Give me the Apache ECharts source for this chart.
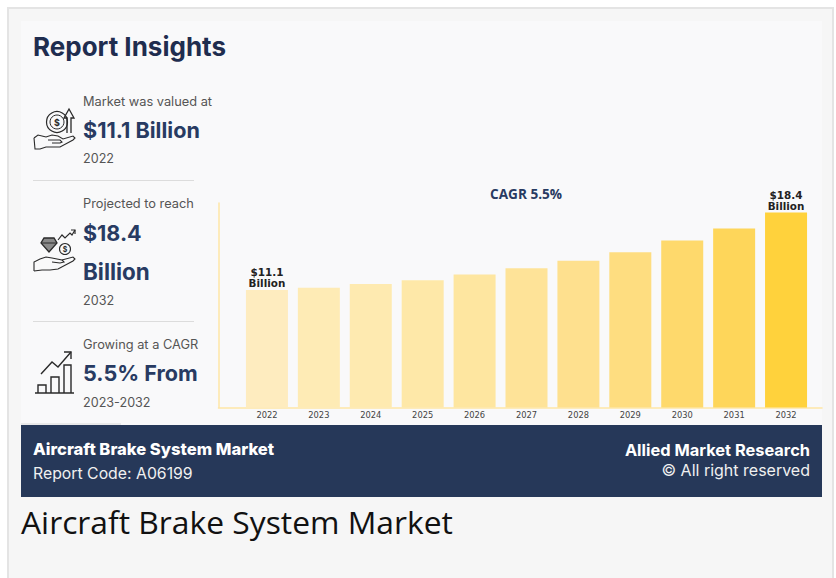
<!DOCTYPE html>
<html>
<head>
<meta charset="utf-8">
<title>Aircraft Brake System Market</title>
<script src="https://cdn.jsdelivr.net/npm/echarts@6/dist/echarts.min.js"></script>
<style>
    html, body { margin: 0; padding: 0; background: #fff; }
    #main { width: 836px; height: 578px; }
</style>
</head>
<body>
<div id="main"></div>
<script>
var years = ['2022', '2023', '2024', '2025', '2026', '2027', '2028', '2029', '2030', '2031', '2032'];
var marketValues = [11.1, 11.3, 11.65, 12.0, 12.55, 13.15, 13.85, 14.65, 15.75, 16.9, 18.4];
var barLabels = ['$11.1\nBillion', '', '', '', '', '', '', '', '', '', '$18.4\nBillion'];
var barColors = ['#feecbf', '#feebb5', '#feeab0', '#fee8a8', '#fee6a0', '#fee398', '#fee08e', '#fedd80', '#fed96c', '#fed65a', '#ffd23c'];

var navy = '#283b62';
var sans = 'Inter, "Noto Sans", sans-serif';

function label(x, y, text, size, weight, color, align) {
    return {
        type: 'text', x: x, y: y, z: 5,
        style: {
            text: text, fontFamily: sans, fontSize: size, fontWeight: weight,
            fill: color, align: align || 'left', verticalAlign: 'middle'
        }
    };
}

function rule(x1, x2, y, color) {
    return { type: 'line', z: 1, shape: { x1: x1, y1: y, x2: x2, y2: y }, style: { stroke: color, lineWidth: 1 } };
}

// 图标用折线和圆拼
function pen(points, width, fill) {
    return {
        type: fill ? 'polygon' : 'polyline', z: 5,
        shape: { points: points },
        style: { stroke: '#2a2a2a', lineWidth: width || 1.1, fill: fill || 'none' }
    };
}

function ring(cx, cy, r, width) {
    return {
        type: 'circle', z: 5,
        shape: { cx: cx, cy: cy, r: r },
        style: { stroke: '#2a2a2a', lineWidth: width || 1.1, fill: 'none' }
    };
}

function tag(x, y, text, size) {
    return {
        type: 'text', x: x, y: y, z: 6,
        style: { text: text, fontFamily: sans, fontSize: size, fontWeight: 700, fill: '#2a2a2a', align: 'center', verticalAlign: 'middle' }
    };
}

var icons = [
    // 手和硬币
    pen([[34, 138], [38, 135], [46, 137], [52, 135], [58, 136], [63, 139], [73, 136], [75, 138], [73, 140], [60, 147], [46, 147], [40, 149], [35, 149], [34, 138]]),
    pen([[48, 140], [60, 140], [62, 142], [60, 143], [52, 143]]),
    ring(57, 122, 10.5, 1.2),
    ring(57, 122, 7, 1),
    tag(57, 122, '$', 9),
    pen([[67, 133], [67, 118], [64, 118], [69, 109], [74, 118], [71, 118], [71, 133]], 1.3),
    // 钻石和手
    pen([[44, 238], [54, 238], [57, 243], [49, 252], [41, 243]], 1.3, '#8a8a8a'),
    pen([[41, 243], [57, 243]], 1),
    ring(65, 249, 5.5),
    tag(65, 249, '$', 7),
    pen([[58, 240], [62, 235], [65, 238], [70, 233], [72, 235], [75, 230]], 1.2),
    pen([[71, 230], [75, 230], [75, 234]], 1.2),
    pen([[34, 271], [34, 262], [40, 259], [46, 257], [52, 258], [62, 260], [64, 262], [60, 263], [52, 262]]),
    pen([[62, 260], [73, 257], [75, 259], [73, 261], [58, 269], [50, 270], [42, 270], [34, 271]]),
    // 柱子和折线
    pen([[35, 393], [74, 393]], 1.6),
    pen([[38, 393], [38, 385], [46, 385], [46, 393]], 1.4),
    pen([[51, 393], [51, 377], [59, 377], [59, 393]], 1.4),
    pen([[64, 393], [64, 365], [71, 365], [71, 393]], 1.4),
    pen([[41, 374], [52, 362], [58, 367], [71, 352]], 1.4),
    pen([[64, 352], [71, 352], [71, 359]], 1.4)
];

var graphics = [
    { type: 'rect', z: -10, shape: { x: 8, y: 8, width: 825, height: 600 }, style: { fill: '#f6f6f6', stroke: '#e4e4e4', lineWidth: 2 } },
    { type: 'rect', z: -9, shape: { x: 21, y: 21, width: 801, height: 404 }, style: { fill: '#f9f9fa' } },
    { type: 'rect', z: -8, shape: { x: 21, y: 425, width: 801, height: 72 }, style: { fill: '#263859' } },
    rule(33, 194, 180.5, '#dcdcdc'),
    rule(33, 194, 321.5, '#dcdcdc'),
    rule(21, 121, 424, '#d8d8d8'),
    label(33, 46, 'Report Insights', 26, 700, '#1f2d4f'),
    label(83, 101, 'Market was valued at', 12.8, 400, '#555'),
    label(83, 130, '$11.1 Billion', 21.6, 700, navy),
    label(83, 158, '2022', 12.6, 400, '#555'),
    label(83, 203, 'Projected to reach', 12.8, 400, '#555'),
    label(83, 233, '$18.4', 21.5, 700, navy),
    label(83, 271, 'Billion', 22.4, 700, navy),
    label(83, 300, '2032', 12.6, 400, '#555'),
    label(83, 344, 'Growing at a CAGR', 12.8, 400, '#555'),
    label(83, 373, '5.5% From', 21.6, 700, navy),
    label(83, 402, '2023-2032', 12.6, 400, '#555'),
    label(33, 449, 'Aircraft Brake System Market', 16.6, 800, '#fff'),
    label(33, 473, 'Report Code: A06199', 15.8, 400, '#f0f0f0'),
    label(810, 450, 'Allied Market Research', 16.4, 700, '#fff', 'right'),
    label(810, 470, '© All right reserved', 16, 400, '#f0f0f0', 'right'),
    {
        type: 'text', x: 21, y: 521, z: 5,
        style: { text: 'Aircraft Brake System Market', fontFamily: '"Open Sans"', fontSize: 31.8, fill: '#111', verticalAlign: 'middle' }
    }
].concat(icons);

var chart = echarts.init(document.getElementById('main'), null, { renderer: 'svg' });
var option = {
    animation: false,
    title: {
        text: 'CAGR 5.5%',
        left: 490, top: 186,
        padding: 0,
        textStyle: { fontFamily: '"Open Sans"', fontSize: 13.6, fontWeight: 700, color: navy }
    },
    // grid 0 放柱子，grid 1 只画轴线
    grid: [
        { left: 241, right: 24, top: 203, bottom: 170.5 },
        { left: 218.5, right: 14, top: 203, bottom: 170.5 }
    ],
    xAxis: [
        {
            type: 'category', gridIndex: 0, data: years,
            axisLine: { show: false }, axisTick: { show: false },
            axisLabel: { fontFamily: 'DejaVu Sans', fontSize: 8.3, color: '#444', margin: 3, interval: 0 }
        },
        {
            type: 'value', gridIndex: 1, min: 0, max: 1,
            axisLine: { show: true, onZero: false, lineStyle: { color: '#fee6a6', width: 1.5 } },
            axisTick: { show: false }, axisLabel: { show: false }, splitLine: { show: false }
        }
    ],
    yAxis: [
        { type: 'value', gridIndex: 0, min: 0, max: 19.3, show: false },
        {
            type: 'value', gridIndex: 1, min: 0, max: 1,
            axisLine: { show: true, onZero: false, lineStyle: { color: '#fee6a6', width: 1.5 } },
            axisTick: { show: false }, axisLabel: { show: false }, splitLine: { show: false }
        }
    ],
    series: [
        {
            type: 'bar',
            xAxisIndex: 0,
            yAxisIndex: 0,
            barWidth: 42,
            data: marketValues.map(function (v, i) {
                return {
                    value: v,
                    itemStyle: { color: barColors[i] },
                    label: {
                        show: barLabels[i] !== '',
                        formatter: barLabels[i],
                        position: 'top',
                        distance: 1,
                        fontFamily: 'DejaVu Sans',
                        fontWeight: 700,
                        fontSize: 10.4,
                        lineHeight: 11,
                        color: '#222'
                    }
                };
            })
        }
    ],
    graphic: { elements: graphics }
};
chart.setOption(option);
</script>
</body>
</html>
